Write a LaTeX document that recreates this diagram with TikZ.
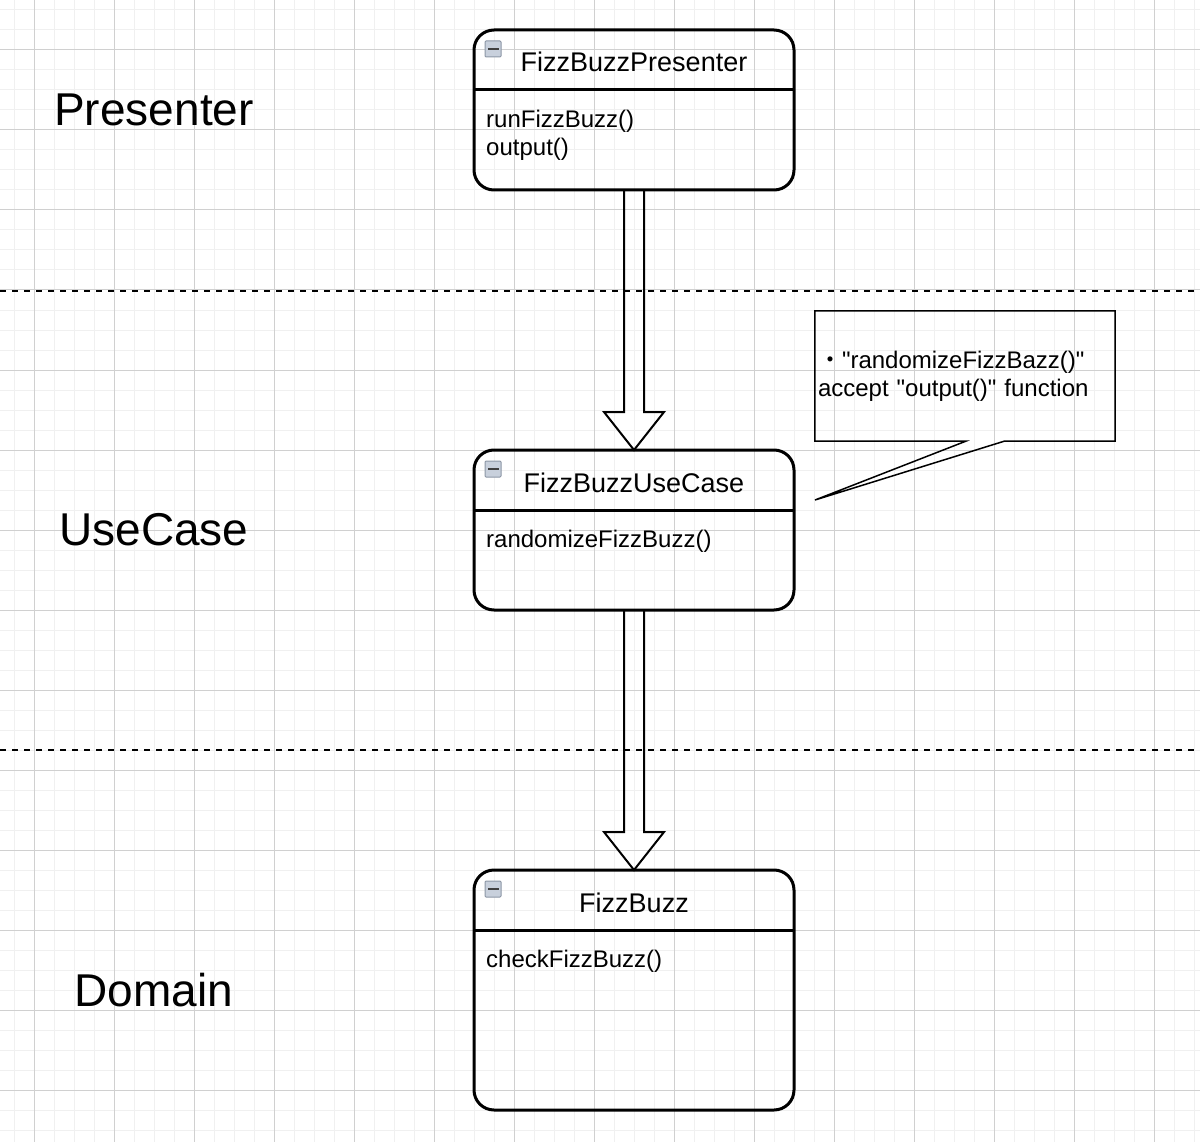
\documentclass[tikz,border=0pt]{standalone}
\usepackage{fontspec}
\setmainfont{Liberation Sans}[Ligatures=TeXOff]
\newfontfamily\cjk{Noto Sans CJK JP}
\usepackage{tikz}
\usetikzlibrary{positioning,calc}
\definecolor{cGridMinor}{RGB}{240,240,240}
\definecolor{cGridMajor}{RGB}{208,208,208}
\definecolor{cIcon}    {RGB}{200,208,220}
\definecolor{cIconEdge}{RGB}{140,150,165}

\begin{document}
\begin{tikzpicture}[
  x=1pt,y=-1pt,
  cls/.style={draw,line width=3pt,rounded corners=20pt,minimum width=320pt,
              inner sep=0pt,outer sep=0pt},
  sep/.style={line width=3pt},
  title/.style={font=\fontsize{27}{32}\selectfont,anchor=base,inner sep=0pt},
  meth/.style={font=\fontsize{24}{28}\selectfont,align=left,anchor=north west,
               inner sep=0pt},
  layer/.style={font=\fontsize{46}{54}\selectfont,inner sep=0pt},
  icon/.style={draw=cIconEdge,fill=cIcon,line width=1pt,rounded corners=1pt},
  layerline/.style={line width=1.5pt,dash pattern=on 6pt off 6pt},
  block/.style={line width=2pt,line join=miter},
  note/.style={inner xsep=3pt,inner ysep=0pt,minimum width=300pt,minimum height=130pt,
               text width=294pt,align=left,font=\fontsize{24}{28}\selectfont},
  callout/.style={line width=1.5pt},
]
\useasboundingbox (0,0) rectangle (1200,1142);
\foreach \x in {14,34,...,1194} \draw[cGridMinor,line width=1pt] (\x,0) -- (\x,1142);
\foreach \y in {10,30,...,1130} \draw[cGridMinor,line width=1pt] (0,\y) -- (1200,\y);
\foreach \x in {34,114,...,1154} \draw[cGridMajor,line width=1pt] (\x,0) -- (\x,1142);
\foreach \y in {50,130,...,1090} \draw[cGridMajor,line width=1pt] (0,\y) -- (1200,\y);

\draw[layerline] (0,291) -- (1200,291);
\draw[layerline] (0,750) -- (1200,750);

\node[layer] (lpres) at (154,110) {Presenter};
\node[layer] (luse)  at (154,530) {UseCase};
\node[layer] (ldom)  at (154,990) {Domain};

\node[cls,minimum height=160pt] (pres) at (634,110) {};
\node[cls,minimum height=160pt,below=260pt of pres] (use) {};
\node[cls,minimum height=240pt,below=260pt of use]  (dom) {};
\foreach \b in {pres,use,dom} {
  \draw[sep] ($(\b.north west)+(0,60)$) -- ($(\b.north east)+(0,60)$);
  \draw[icon] ($(\b.north west)+(11,11)$) rectangle ++(16,16);
  \draw[line width=2.5pt,black!75] ($(\b.north west)+(14,19)$) -- ++(11,0);
}

\node[title] (tpres) at ($(pres.north)+(0,42)$) {FizzBuzzPresenter};
\node[title] (tuse)  at ($(use.north)+(0,42)$)  {FizzBuzzUseCase};
\node[title] (tdom)  at ($(dom.north)+(0,42)$)  {FizzBuzz};
\node[meth] (mpres) at ($(pres.north west)+(12,80)$) {runFizzBuzz()\\output()};
\node[meth] (muse)  at ($(use.north west)+(12,80)$)  {randomizeFizzBuzz()};
\node[meth] (mdom)  at ($(dom.north west)+(12,80)$)  {checkFizzBuzz()};

\draw[block] ($(pres.south)+(-10,0)$) -- ($(use.north)+(-10,-38)$) -- ++(-20,0)
  -- (use.north) -- ($(use.north)+(30,-38)$) -- ++(-20,0) -- ($(pres.south)+(10,0)$);
\draw[block] ($(use.south)+(-10,0)$) -- ($(dom.north)+(-10,-38)$) -- ++(-20,0)
  -- (dom.north) -- ($(dom.north)+(30,-38)$) -- ++(-20,0) -- ($(use.south)+(10,0)$);

\node[note] (note) at (965,376) {{\cjk ・}"randomizeFizzBazz()"\\accept "output()" function};
\coordinate (tip) at ($(use.east)+(21,-30)$);
\draw[callout] ($(note.south west)+(151,0)$) -- (note.south west) -- (note.north west)
  -- (note.north east) -- (note.south east) -- ($(note.south east)+(-111,0)$) -- (tip) -- cycle;
\end{tikzpicture}
\end{document}
